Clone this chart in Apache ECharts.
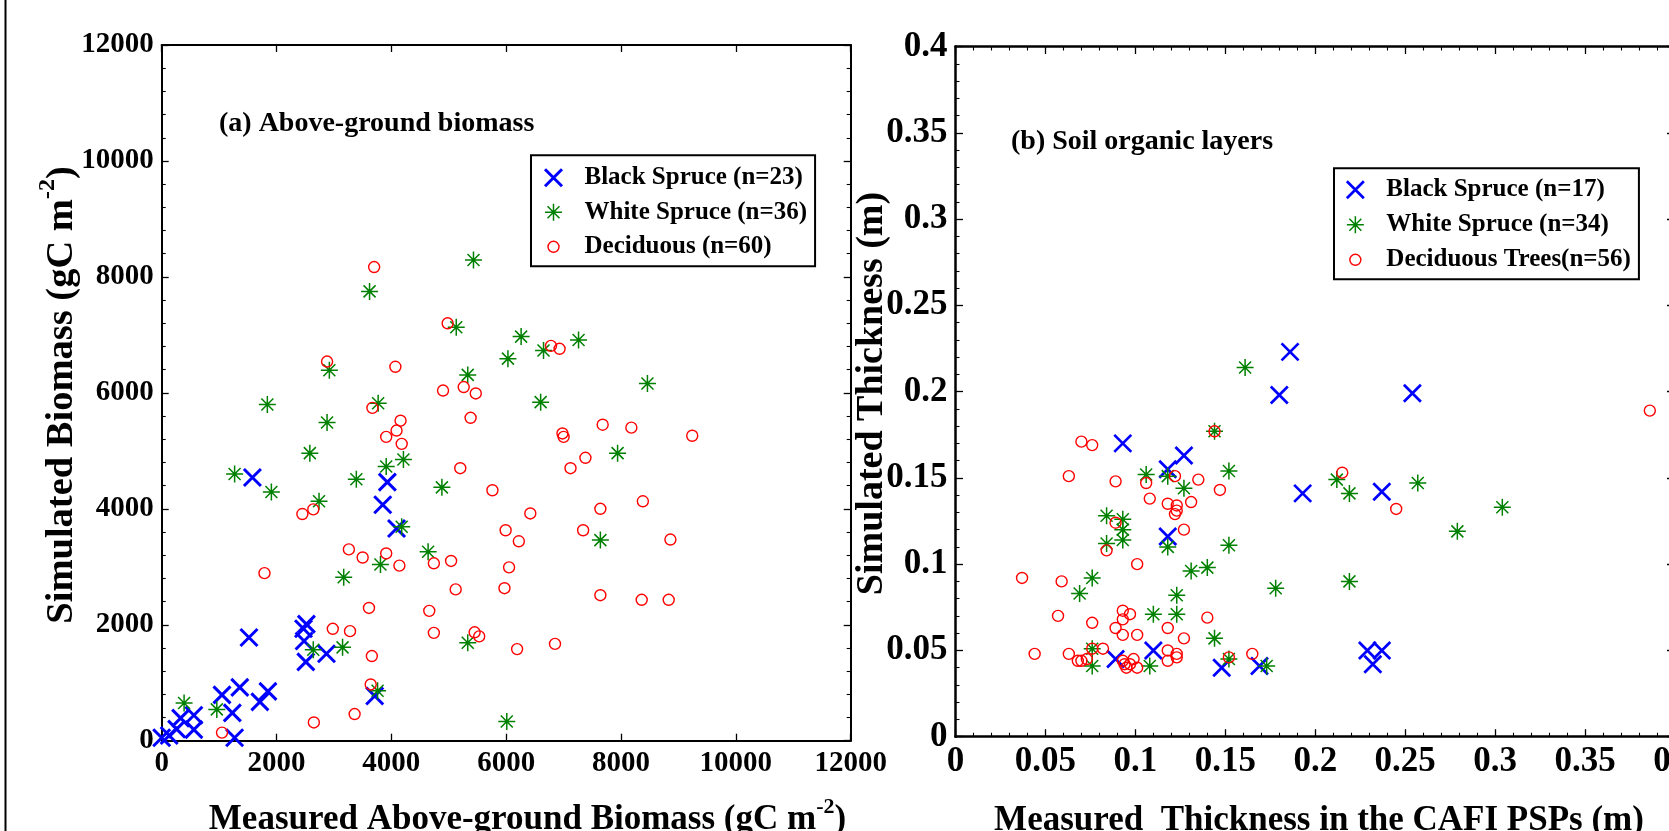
<!DOCTYPE html>
<html><head><meta charset="utf-8">
<script src="https://cdn.jsdelivr.net/npm/echarts@6/dist/echarts.min.js"></script>
<style>html,body{margin:0;padding:0;background:#fff}#c{width:1669px;height:831px}</style>
</head><body><div id="c"></div><script>
const FONT = '"Liberation Serif","Times New Roman",serif';

// ---- tick values ----
const biomassTicks = [0, 2000, 4000, 6000, 8000, 10000, 12000];
const thicknessTicks = [0, 0.05, 0.1, 0.15, 0.2, 0.25, 0.3, 0.35, 0.4];

// ---- legend names ----
const namesA = ['Black Spruce (n=23)', 'White Spruce (n=36)', 'Deciduous (n=60)'];
const namesB = ['Black Spruce (n=17)', 'White Spruce (n=34)', 'Deciduous Trees(n=56)'];

// ---- (a) Above-ground biomass: [measured, simulated] gC m-2 ----
const biomassBlack = [
  [0,50],[130,90],[260,200],[330,390],[560,440],[560,190],[1050,790],[1230,480],[1270,50],
  [1360,920],[1710,670],[1850,850],[1520,1780],[2520,2010],[2470,1930],[2480,1720],[2510,1360],
  [2870,1500],[3710,770],[1580,4540],[3930,4460],[3850,4070],[4090,3660]
];
const biomassWhite = [
  [5430,8290],[3620,7750],[5130,7130],[6260,6970],[7260,6910],[6650,6730],[6030,6590],[2920,6390],
  [5330,6310],[8460,6160],[1840,5800],[3770,5820],[6600,5840],[2880,5490],[2580,4960],[4210,4850],
  [3910,4730],[7940,4960],[1270,4600],[3390,4510],[4880,4370],[1910,4290],[2740,4130],[4180,3690],
  [7640,3460],[4640,3260],[3810,3040],[3170,2820],[2640,1570],[3150,1610],[5330,1690],[3760,860],
  [390,650],[960,540],[6010,330]
];
const biomassDecid = [
  [3700,8170],[4980,7200],[2880,6540],[4070,6450],[4900,6040],[5260,6100],[5470,5990],[6780,6810],
  [6930,6760],[3670,5740],[4160,5520],[5380,5570],[4090,5350],[3910,5240],[4180,5120],[7680,5450],
  [8180,5400],[6980,5300],[7000,5240],[9240,5260],[7380,4880],[7120,4700],[5200,4700],[5760,4320],
  [8380,4130],[7640,4000],[6420,3920],[2450,3910],[2640,3990],[5990,3630],[7340,3630],[6220,3440],
  [8860,3470],[3260,3300],[3500,3160],[3910,3230],[5040,3100],[4740,3060],[4140,3020],[6050,2990],
  [1790,2890],[5120,2610],[5970,2630],[7640,2510],[8360,2430],[8830,2430],[3610,2290],[4660,2240],
  [2980,1930],[3280,1890],[4740,1860],[5450,1870],[5530,1800],[6190,1580],[6850,1670],[3660,1460],
  [3640,970],[3360,460],[2650,315],[1050,140]
];

// ---- (b) Soil organic layers: [measured, simulated] m ----
const soilBlack = [
  [0.093,0.170],[0.127,0.163],[0.118,0.155],[0.118,0.116],[0.193,0.141],[0.237,0.142],[0.089,0.045],
  [0.110,0.050],[0.148,0.040],[0.169,0.041],[0.229,0.050],[0.237,0.050],[0.232,0.042],[0.186,0.223],
  [0.180,0.198],[0.254,0.199]
];
const soilWhite = [
  [0.161,0.214],[0.144,0.177],[0.106,0.152],[0.118,0.151],[0.127,0.144],[0.152,0.154],[0.212,0.149],
  [0.219,0.141],[0.257,0.147],[0.304,0.133],[0.279,0.119],[0.084,0.128],[0.093,0.126],[0.093,0.120],
  [0.084,0.112],[0.093,0.114],[0.118,0.110],[0.152,0.111],[0.131,0.096],[0.140,0.098],[0.076,0.092],
  [0.219,0.090],[0.069,0.083],[0.178,0.086],[0.123,0.082],[0.110,0.071],[0.123,0.071],[0.144,0.057],
  [0.076,0.051],[0.076,0.041],[0.108,0.041],[0.152,0.045],[0.173,0.041]
];
const soilDecid = [
  [0.386,0.189],[0.144,0.177],[0.070,0.171],[0.076,0.169],[0.063,0.151],[0.089,0.148],[0.106,0.147],
  [0.122,0.151],[0.135,0.149],[0.147,0.143],[0.215,0.153],[0.108,0.138],[0.118,0.135],[0.123,0.134],
  [0.123,0.131],[0.122,0.129],[0.131,0.136],[0.245,0.132],[0.089,0.124],[0.127,0.120],[0.084,0.108],
  [0.101,0.100],[0.037,0.092],[0.059,0.090],[0.057,0.070],[0.076,0.066],[0.093,0.073],[0.097,0.071],
  [0.093,0.068],[0.140,0.069],[0.089,0.063],[0.118,0.063],[0.093,0.059],[0.101,0.059],[0.127,0.057],
  [0.044,0.048],[0.063,0.048],[0.076,0.051],[0.082,0.051],[0.118,0.050],[0.123,0.048],[0.123,0.046],
  [0.165,0.048],[0.152,0.046],[0.068,0.044],[0.070,0.044],[0.073,0.045],[0.093,0.044],[0.094,0.042],
  [0.099,0.045],[0.097,0.042],[0.095,0.040],[0.101,0.040],[0.118,0.044]
];

// ---- marker shapes (20x20 box) ----
const SYM_X = 'path://M0,0M20,20M1.5,1.5L18.5,18.5M18.5,1.5L1.5,18.5';
const SYM_AST = 'path://M0,0M20,20M10,1.5L10,18.5M1.5,10L18.5,10M4,4L16,16M16,4L4,16';
const SYM_O = 'path://M0,0M20,20M15.5,10A5.5,5.5,0,1,1,4.5,10A5.5,5.5,0,1,1,15.5,10Z';
const BLUE = '#0000ff', GREEN = '#008000', RED = '#ff0000';

const styles = [
  {symbol: SYM_X, color: BLUE, w: [3, 2.7]},
  {symbol: SYM_AST, color: GREEN, w: [1.5, 1.5]},
  {symbol: SYM_O, color: RED, w: [1.4, 1.4]}
];

function mkAxis(gi, ticks, pos, showLabel, fontSize, margin, lineW, majorLen, minorOn, minorLen) {
  return {
    type: 'value', gridIndex: gi, position: pos,
    min: ticks[0], max: ticks[ticks.length - 1], interval: ticks[1] - ticks[0],
    axisLine: {show: true, onZero: false, lineStyle: {color: '#000', width: lineW}},
    axisTick: {show: true, inside: true, length: majorLen, lineStyle: {color: '#000', width: 1.3}},
    minorTick: {show: minorOn, splitNumber: 5, length: minorLen, lineStyle: {color: '#000', width: 1.1}},
    splitLine: {show: false}, minorSplitLine: {show: false},
    axisLabel: {show: showLabel, margin: margin, color: '#000', fontFamily: FONT, fontWeight: 'bold',
                fontSize: fontSize, hideOverlap: false, formatter: v => String(+v.toFixed(4))}
  };
}

function mkSeries(name, data, st, gi) {
  return {
    type: 'scatter', name: name, data: data, xAxisIndex: gi * 2, yAxisIndex: gi * 2,
    symbol: st.symbol, symbolSize: 20, silent: true, clip: false,
    itemStyle: {color: 'rgba(0,0,0,0)', borderColor: st.color, borderWidth: st.w[gi], opacity: 1},
    emphasis: {disabled: true}
  };
}

function mkLegend(names, gi, left, top, padding, gap) {
  return {
    orient: 'vertical', left: left, top: top, padding: padding, itemGap: gap,
    itemWidth: 52, itemHeight: 20, selectedMode: false,
    borderColor: '#000', borderWidth: 2, backgroundColor: '#fff',
    textStyle: {fontFamily: FONT, fontWeight: 'bold', fontSize: 25, color: '#000', lineHeight: 25},
    data: names.map((n, i) => ({
      name: n, icon: styles[i].symbol,
      itemStyle: {color: 'rgba(0,0,0,0)', borderColor: styles[i].color, borderWidth: styles[i].w[gi]}
    }))
  };
}

const chart = echarts.init(document.getElementById('c'), null, {renderer: 'canvas'});
chart.setOption({
  animation: false,
  backgroundColor: '#fff',
  grid: [
    {left: 161.7, top: 45, width: 689, height: 695.7, outerBoundsMode: 'none', containLabel: false},
    {left: 955.5, top: 46.5, width: 719.5, height: 690.2, outerBoundsMode: 'none', containLabel: false}
  ],
  xAxis: [
    mkAxis(0, biomassTicks, 'bottom', true, 29, 8, 2, 7, false, 4),
    mkAxis(0, biomassTicks, 'top', false, 29, 8, 2, 7, false, 4),
    mkAxis(1, thicknessTicks, 'bottom', true, 35, 7.5, 2.5, 7.5, true, 4),
    mkAxis(1, thicknessTicks, 'top', false, 35, 8, 2.5, 7.5, true, 4)
  ],
  yAxis: [
    mkAxis(0, biomassTicks, 'left', true, 29, 8, 2, 7, true, 4),
    mkAxis(0, biomassTicks, 'right', false, 29, 8, 2, 7, true, 4),
    mkAxis(1, thicknessTicks, 'left', true, 35, 8, 2.5, 7.5, true, 4),
    mkAxis(1, thicknessTicks, 'right', false, 35, 8, 2.5, 8, true, 4)
  ],
  legend: [
    mkLegend(namesA, 0, 531, 155.3, [10, 8, 7, 11], 9.5),
    mkLegend(namesB, 1, 1334, 168.3, [9, 8, 7, 10], 10)
  ],
  series: [
    mkSeries(namesA[0], biomassBlack, styles[0], 0),
    mkSeries(namesA[1], biomassWhite, styles[1], 0),
    mkSeries(namesA[2], biomassDecid, styles[2], 0),
    mkSeries(namesB[0], soilBlack, styles[0], 1),
    mkSeries(namesB[1], soilWhite, styles[1], 1),
    mkSeries(namesB[2], soilDecid, styles[2], 1)
  ],
  graphic: [
    {type: 'line', shape: {x1: 5.5, y1: 0, x2: 5.5, y2: 831}, style: {stroke: '#000', lineWidth: 2}, silent: true},
    {type: 'text', x: 219, y: 123.8, silent: true,
     style: {text: '(a) Above-ground biomass', fontFamily: FONT, fontWeight: 'bold', fontSize: 28, fill: '#000', align: 'left', verticalAlign: 'middle'}},
    {type: 'text', x: 1011, y: 142.2, silent: true,
     style: {text: '(b) Soil organic layers', fontFamily: FONT, fontWeight: 'bold', fontSize: 28, fill: '#000', align: 'left', verticalAlign: 'middle'}},
    {type: 'text', x: 527.5, y: 819.5, silent: true,
     style: {text: '{a|Measured Above-ground Biomass (gC m}{s|-2}{a|)}', align: 'center', verticalAlign: 'middle', fill: '#000',
       rich: {a: {fontFamily: FONT, fontWeight: 'bold', fontSize: 35, lineHeight: 46, fill: '#000'},
              s: {fontFamily: FONT, fontWeight: 'bold', fontSize: 22, lineHeight: 22, verticalAlign: 'top', fill: '#000'}}}},
    {type: 'text', x: 62.5, y: 395, rotation: Math.PI / 2, silent: true,
     style: {text: '{a|Simulated Biomass (gC m}{s|-2}{a|)}', align: 'center', verticalAlign: 'middle', fill: '#000',
       rich: {a: {fontFamily: FONT, fontWeight: 'bold', fontSize: 38.5, lineHeight: 54, fill: '#000'},
              s: {fontFamily: FONT, fontWeight: 'bold', fontSize: 24, lineHeight: 24, verticalAlign: 'top', fill: '#000'}}}},
    {type: 'text', x: 1319, y: 821.3, silent: true,
     style: {text: 'Measured  Thickness in the CAFI PSPs (m)', fontFamily: FONT, fontWeight: 'bold', fontSize: 35, fill: '#000', align: 'center', verticalAlign: 'middle'}},
    {type: 'text', x: 872, y: 393.5, rotation: Math.PI / 2, silent: true,
     style: {text: 'Simulated Thickness (m)', fontFamily: FONT, fontWeight: 'bold', fontSize: 38, fill: '#000', align: 'center', verticalAlign: 'middle'}}
  ]
});
</script></body></html>
